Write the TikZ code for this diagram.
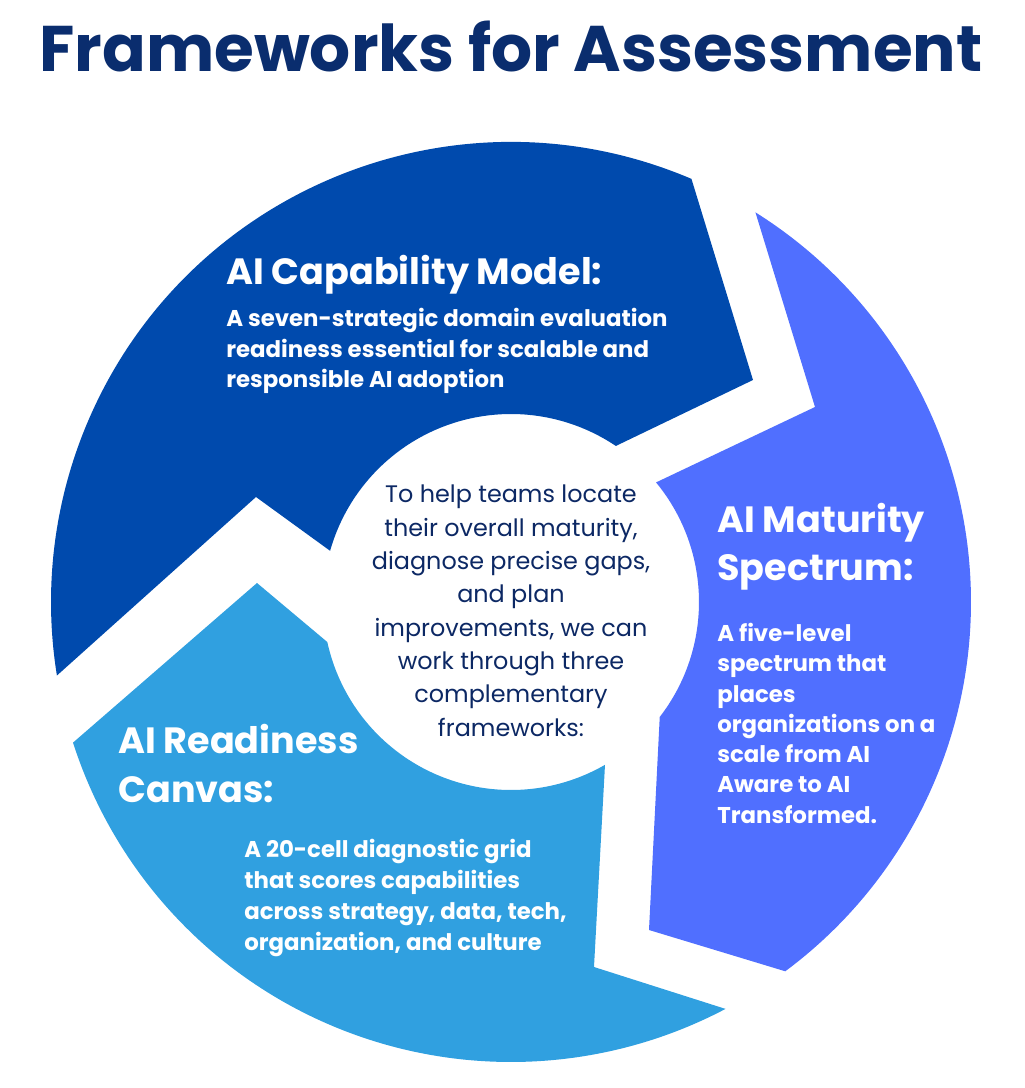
\documentclass[tikz,border=0pt]{standalone}
\usepackage{fontspec}
\setmainfont{Poppins}
\definecolor{titleblue}{HTML}{0A2D6E}
\definecolor{capblue}{HTML}{004AAD}
\definecolor{matblue}{HTML}{506FFF}
\definecolor{readyblue}{HTML}{30A0E0}
\definecolor{textblue}{HTML}{0C2864}
\tikzset{
  title/.style={anchor=base, inner sep=0pt, text=titleblue, font=\bfseries\fontsize{36.7}{40}\selectfont},
  heading/.style={anchor=base west, inner sep=0pt, text=white, align=left, font=\bfseries\fontsize{20.8}{27.6}\selectfont},
  blurb/.style={anchor=base west, inner sep=0pt, text=white, align=left, font=\bfseries\fontsize{13}{17.6}\selectfont},
  hub/.style={anchor=base, inner sep=0pt, text=textblue, align=center, font=\fontsize{13.6}{18.95}\selectfont}
}
\begin{document}
\begin{tikzpicture}[x=0.02cm,y=0.02cm]
  \useasboundingbox (-511,-486) rectangle (513,602);
  % the three arrows round the hub
  \fill[capblue] (66.9:460) arc[start angle=66.9, end angle=189.2, radius=460]
    -- (-255,105) -- (164.2:188) arc[start angle=164.2, end angle=56.1, radius=188]
    -- (242,222) -- cycle;
  \fill[matblue] (57.9:460) -- (304,195) -- (39.5:188)
    arc[start angle=39.5, end angle=-37.7, radius=188]
    -- (138,-328) -- (-53.4:460) arc[start angle=-53.4, end angle=57.9, radius=460] -- cycle;
  \fill[readyblue] (297.8:460) -- (83,-365) -- (300:188)
    arc[start angle=300, end angle=192.3, radius=188]
    -- (-254,19) -- (197.8:460) arc[start angle=197.8, end angle=297.8, radius=460] -- cycle;
  % multi-line nodes sit on the baseline of their last line
  \draw
    (0,530) node[title] (title){Frameworks for Assessment}
    (-285,317) node[heading] (caphead){AI Capability Model:}
    (-285,214) node[blurb] (captext){A seven-strategic domain evaluation\\readiness essential for scalable and\\responsible AI adoption}
    (206,21) node[heading] (mathead){AI Maturity\\Spectrum:}
    (206,-221) node[blurb, font=\bfseries\fontsize{13}{17.2}\selectfont] (mattext){A five-level\\spectrum that\\places\\organizations on a\\scale from AI\\Aware to AI\\Transformed.}
    (-393,-200) node[heading] (readyhead){AI Readiness\\Canvas:}
    (-267,-348) node[blurb] (readytext){A 20-cell diagnostic grid\\that scores capabilities\\across strategy, data, tech,\\organization, and culture}
    (0,-134) node[hub] (hub){To help teams locate\\their overall maturity,\\diagnose precise gaps,\\and plan\\improvements, we can\\work through three\\complementary\\frameworks:};
\end{tikzpicture}
\end{document}
